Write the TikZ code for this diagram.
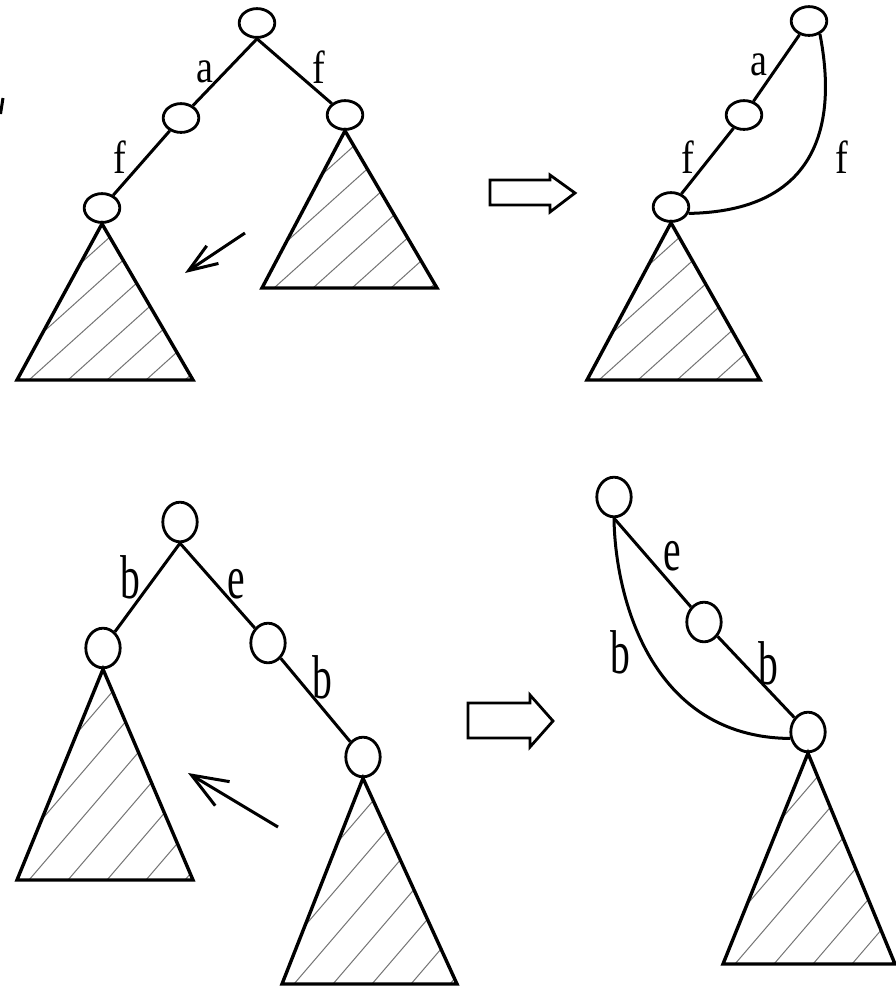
\documentclass[tikz,border=0pt]{standalone}
\usepackage{fontspec}
\newfontfamily\edgefont[FakeStretch=0.82]{Liberation Serif}
\newfontfamily\edgefonttall[FakeStretch=0.64]{Liberation Serif}
\usetikzlibrary{shapes.geometric,arrows.meta}

% hatched subtree: apex, base left, base right, hatch direction
\newcommand{\subtree}[4]{%
  \begin{scope}
    \clip #1 -- #2 -- #3 -- cycle;
    \foreach \k in {-7,...,6}
      \draw[hatchline] #2 ++(\k*39+12,0) -- ++#4;
  \end{scope}
  \draw[tri] #1 -- #2 -- #3 -- cycle;
}

\begin{document}
\begin{tikzpicture}[x=0.25mm, y=-0.25mm,
    vtx/.style={ellipse, draw, line width=0.7mm, minimum width=8.9mm, minimum height=7.2mm, inner sep=0pt},
    vtxtall/.style={vtx, minimum width=8.6mm, minimum height=9.9mm},
    branch/.style={line width=0.75mm},
    tri/.style={line width=0.85mm, line join=miter},
    hatchline/.style={line width=0.25mm, black!55},
    lbl/.style={inner sep=0pt, font=\edgefont\fontsize{33}{33}\selectfont},
    lbltall/.style={inner sep=0pt, font=\edgefonttall\fontsize{44}{44}\selectfont},
    movearrow/.style={line width=0.75mm, -{Straight Barb[length=7.2mm,width=5.3mm]}},
    blockarrow/.style={line width=0.7mm, line join=miter}]

    \useasboundingbox (0,0) rectangle (896,986);

    % cut-off mark at the left edge
    \draw[line width=0.75mm] (3,98) -- (0.5,114);

    %% Top left: tree before

    % Nodes
    \node[vtx] (r1) at (257,23) {};
    \node[vtx] (a1) at (181,118) {};
    \node[vtx] (f1) at (345,115) {};
    \node[vtx] (l1) at (102,208) {};

    % Branches
    \draw[branch] (r1.south) -- (a1);
    \draw[branch] (r1.south) -- (f1);
    \draw[branch] (a1) -- (l1);

    % Subtrees
    \subtree{(l1.south)}{(17,380)}{(193,380)}{(300,-270)}
    \subtree{(f1.south)}{(262,288)}{(437,288)}{(300,-270)}

    % Labels
    \node[lbl] (la1) at (205,72) {a};
    \node[lbl] (lf1) at (319,67) {f};
    \node[lbl] (lf2) at (120,157) {f};

    % Moving the subtree
    \coordinate (mv1s) at (245,233);
    \coordinate (mv1e) at (185,273);
    \draw[movearrow] (mv1s) -- (mv1e);

    %% Top right: tree after

    \draw[blockarrow] (490,180) -- (550,180) -- (550,175) -- (575,193)
        -- (550,212) -- (550,205) -- (490,205) -- cycle;

    % Nodes
    \node[vtx] (t2) at (809,21) {};
    \node[vtx] (m2) at (744,115) {};
    \node[vtx] (b2) at (671,207) {};

    % Branches
    \draw[branch] (t2) -- (m2);
    \draw[branch] (m2) -- (b2);
    \draw[branch] (t2.-50) .. controls +(19,97) and +(124,-2) .. (b2.-20);

    % Subtree
    \subtree{(b2.south)}{(587,380)}{(760,380)}{(300,-270)}

    % Labels
    \node[lbl] (la2) at (759,65) {a};
    \node[lbl] (lf3) at (688,157) {f};
    \node[lbl] (lf4) at (842,157) {f};

    %% Bottom left: tree before

    % Nodes
    \node[vtxtall] (r3) at (180,522) {};
    \node[vtxtall] (b3) at (103,648) {};
    \node[vtxtall] (e3) at (268,643) {};
    \node[vtxtall] (bb3) at (363,757) {};

    % Branches
    \draw[branch] (r3.south) -- (b3);
    \draw[branch] (r3.south) -- (e3);
    \draw[branch] (e3) -- (bb3);

    % Subtrees
    \subtree{(b3.south)}{(17,880)}{(193,880)}{(240,-280)}
    \subtree{(bb3.south)}{(282,984)}{(457,984)}{(240,-280)}

    % Labels
    \node[lbltall] (lb1) at (130,577) {b};
    \node[lbltall] (le1) at (236,584) {e};
    \node[lbltall] (lb2) at (322,677) {b};

    % Moving the subtree
    \coordinate (mv2s) at (278,827);
    \coordinate (mv2e) at (188,773);
    \draw[movearrow, -{Straight Barb[length=9mm,width=7mm]}] (mv2s) -- (mv2e);

    %% Bottom right: tree after

    \draw[blockarrow] (468,703) -- (530,703) -- (530,695) -- (553,721)
        -- (530,747) -- (530,738) -- (468,738) -- cycle;

    % Nodes
    \node[vtxtall] (t4) at (614,497) {};
    \node[vtxtall] (m4) at (704,622) {};
    \node[vtxtall] (b4) at (808,732) {};

    % Branches
    \draw[branch] (t4.south) -- (m4);
    \draw[branch] (m4) -- (b4);
    \draw[branch] (t4.south) .. controls +(1,78) and +(-140,-1) .. (b4.200);

    % Subtree
    \subtree{(b4.south)}{(723,964)}{(895,964)}{(240,-280)}

    % Labels
    \node[lbltall] (le2) at (672,556) {e};
    \node[lbltall] (lb3) at (620,652) {b};
    \node[lbltall] (lb4) at (768,663) {b};

\end{tikzpicture}
\end{document}
